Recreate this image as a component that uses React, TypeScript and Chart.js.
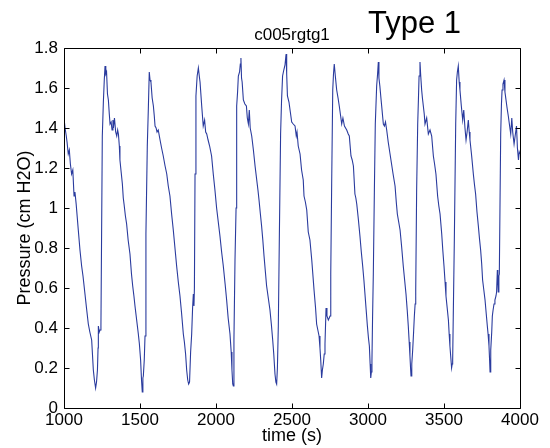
import React, { useEffect, useRef } from 'react';
import { Chart, registerables } from 'chart.js';

Chart.register(...registerables);

const FONT = "'Liberation Sans', Arial, Helvetica, sans-serif";

const titleText = 'c005rgtg1';
const annotationText = 'Type 1';
const xAxisTitle = 'time (s)';
const yAxisTitle = 'Pressure (cm H2O)';

const xTickValues = [1000, 1500, 2000, 2500, 3000, 3500, 4000];
const xTickLabels = ['1000', '1500', '2000', '2500', '3000', '3500', '4000'];
const yTickValues = [0, 0.2, 0.4, 0.6, 0.8, 1, 1.2, 1.4, 1.6, 1.8];
const yTickLabels = ['0', '0.2', '0.4', '0.6', '0.8', '1', '1.2', '1.4', '1.6', '1.8'];

// time (s)
const times = [
  1000, 1007, 1015, 1020, 1028, 1035, 1042, 1050, 1058, 1066, 1072, 1080, 1094, 1105, 1116, 1125, 1138, 1148, 1160, 1170,
  1182, 1193, 1200, 1208, 1214, 1220, 1224, 1226, 1232, 1237, 1243, 1248, 1252, 1259, 1265, 1270, 1275, 1280, 1286, 1292,
  1298, 1303, 1310, 1316, 1322, 1325, 1332, 1340, 1347, 1353, 1358, 1364, 1368, 1376, 1384, 1390, 1395, 1404, 1412, 1422,
  1434, 1444, 1452, 1460, 1467, 1478, 1489, 1496, 1504, 1510, 1515, 1519, 1522, 1528, 1533, 1539, 1548, 1555, 1561, 1566,
  1572, 1580, 1588, 1594, 1599, 1606, 1612, 1620, 1632, 1642, 1653, 1665, 1676, 1686, 1697, 1708, 1719, 1730, 1741, 1752,
  1763, 1774, 1785, 1792, 1800, 1807, 1814, 1820, 1826, 1833, 1840, 1846, 1851, 1855, 1858, 1862, 1868, 1876, 1884, 1890,
  1895, 1906, 1916, 1925, 1932, 1939, 1948, 1958, 1971, 1982, 1993, 2004, 2015, 2026, 2037, 2048, 2060, 2070, 2080, 2092,
  2100, 2105, 2110, 2114, 2118, 2125, 2132, 2136, 2142, 2147, 2155, 2160, 2164, 2168, 2172, 2180, 2190, 2200, 2206, 2213,
  2219, 2225, 2235, 2246, 2257, 2268, 2276, 2283, 2292, 2300, 2308, 2316, 2325, 2333, 2344, 2355, 2364, 2373, 2380, 2388,
  2394, 2399, 2404, 2410, 2417, 2425, 2431, 2438, 2446, 2454, 2461, 2465, 2470, 2480, 2489, 2498, 2508, 2520, 2528, 2533,
  2541, 2553, 2563, 2574, 2579, 2588, 2597, 2607, 2618, 2630, 2645, 2655, 2662, 2670, 2678, 2684, 2689, 2695, 2700, 2706,
  2712, 2717, 2724, 2730, 2739, 2745, 2750, 2755, 2761, 2768, 2773, 2778, 2785, 2794, 2803, 2811, 2820, 2827, 2835, 2845,
  2860, 2870, 2877, 2888, 2896, 2904, 2914, 2920, 2926, 2937, 2947, 2956, 2965, 2973, 2980, 2988, 2996, 3003, 3009, 3014,
  3018, 3022, 3026, 3030, 3035, 3042, 3048, 3057, 3063, 3068, 3072, 3078, 3085, 3090, 3096, 3101, 3108, 3115, 3123, 3133,
  3145, 3155, 3165, 3178, 3186, 3193, 3202, 3211, 3222, 3232, 3241, 3250, 3258, 3265, 3271, 3276, 3280, 3283, 3288, 3294,
  3300, 3305, 3310, 3314, 3320, 3327, 3332, 3336, 3342, 3347, 3353, 3358, 3364, 3370, 3375, 3386, 3397, 3408, 3419, 3430,
  3438, 3447, 3458, 3466, 3474, 3485, 3492, 3500, 3507, 3513, 3521, 3529, 3534, 3539, 3545, 3550, 3554, 3557, 3561, 3568,
  3577, 3583, 3588, 3594, 3600, 3605, 3614, 3623, 3630, 3638, 3645, 3652, 3660, 3666, 3671, 3682, 3693, 3700, 3708, 3717,
  3726, 3733, 3741, 3748, 3754, 3762, 3770, 3778, 3785, 3790, 3796, 3800, 3803, 3806, 3809, 3814, 3818, 3823, 3829, 3835,
  3842, 3846, 3851, 3854, 3857, 3861, 3864, 3873, 3878, 3882, 3888, 3895, 3901, 3908, 3915, 3923, 3930, 3939, 3946, 3952,
  3961, 3968, 3977, 3983, 3990, 3995, 4000,
];

// pressure (cm H2O)
const pressures = [
  1.45, 1.40, 1.36, 1.33, 1.27, 1.29, 1.22, 1.17, 1.19, 1.06, 1.08, 1.02, 0.89, 0.79, 0.71, 0.66, 0.57, 0.50, 0.42, 0.38,
  0.34, 0.19, 0.14, 0.10, 0.13, 0.19, 0.30, 0.41, 0.38, 0.39, 0.41, 0.94, 1.36, 1.53, 1.64, 1.71, 1.67, 1.68, 1.57, 1.54,
  1.47, 1.42, 1.43, 1.39, 1.44, 1.40, 1.45, 1.38, 1.36, 1.39, 1.37, 1.31, 1.24, 1.18, 1.12, 1.05, 1.02, 0.96, 0.92, 0.84,
  0.77, 0.67, 0.61, 0.56, 0.51, 0.44, 0.37, 0.32, 0.24, 0.14, 0.08, 0.15, 0.16, 0.24, 0.36, 0.87, 1.31, 1.50, 1.68, 1.64,
  1.63, 1.55, 1.51, 1.46, 1.41, 1.40, 1.38, 1.39, 1.34, 1.30, 1.26, 1.21, 1.17, 1.11, 1.06, 0.97, 0.89, 0.80, 0.71, 0.63,
  0.56, 0.47, 0.37, 0.33, 0.27, 0.19, 0.14, 0.12, 0.13, 0.28, 0.37, 0.50, 0.57, 0.51, 0.60, 1.17, 1.56, 1.66, 1.70, 1.66,
  1.63, 1.51, 1.41, 1.44, 1.38, 1.37, 1.34, 1.31, 1.26, 1.17, 1.09, 1.00, 0.93, 0.86, 0.78, 0.71, 0.62, 0.54, 0.45, 0.37,
  0.28, 0.19, 0.12, 0.11, 0.34, 0.74, 1.00, 1.51, 1.58, 1.66, 1.68, 1.72, 1.75, 1.65, 1.63, 1.54, 1.52, 1.51, 1.45, 1.42,
  1.49, 1.40, 1.36, 1.29, 1.21, 1.14, 1.09, 1.04, 0.97, 0.91, 0.84, 0.76, 0.68, 0.61, 0.55, 0.49, 0.42, 0.34, 0.27, 0.17,
  0.13, 0.12, 0.20, 0.41, 0.87, 1.37, 1.53, 1.66, 1.69, 1.715, 1.77, 1.67, 1.56, 1.53, 1.48, 1.43, 1.42, 1.41, 1.36, 1.38,
  1.31, 1.27, 1.19, 1.14, 1.06, 1.03, 0.99, 0.88, 0.84, 0.74, 0.59, 0.50, 0.42, 0.39, 0.36, 0.30, 0.24, 0.15, 0.19, 0.22,
  0.27, 0.32, 0.50, 0.46, 0.44, 0.45, 0.46, 0.67, 1.12, 1.59, 1.67, 1.72, 1.66, 1.59, 1.55, 1.51, 1.46, 1.42, 1.45, 1.41,
  1.39, 1.37, 1.36, 1.26, 1.24, 1.21, 1.07, 1.05, 1.02, 0.94, 0.86, 0.78, 0.71, 0.64, 0.57, 0.49, 0.41, 0.35, 0.31, 0.22,
  0.15, 0.18, 0.24, 0.45, 0.67, 1.09, 1.42, 1.61, 1.67, 1.73, 1.65, 1.61, 1.55, 1.51, 1.46, 1.42, 1.41, 1.43, 1.39, 1.33,
  1.27, 1.22, 1.17, 1.11, 1.03, 0.97, 0.93, 0.89, 0.80, 0.71, 0.64, 0.57, 0.49, 0.41, 0.33, 0.26, 0.20, 0.16, 0.22, 0.29,
  0.38, 0.46, 0.52, 0.59, 1.09, 1.42, 1.55, 1.66, 1.73, 1.66, 1.59, 1.55, 1.51, 1.47, 1.42, 1.45, 1.37, 1.39, 1.36, 1.26,
  1.22, 1.17, 1.06, 1.01, 0.97, 0.87, 0.79, 0.71, 0.63, 0.56, 0.50, 0.44, 0.37, 0.31, 0.25, 0.20, 0.22, 0.24, 0.46, 0.84,
  1.42, 1.64, 1.68, 1.71, 1.63, 1.59, 1.51, 1.44, 1.49, 1.40, 1.34, 1.38, 1.44, 1.38, 1.34, 1.26, 1.17, 1.12, 1.07, 0.98,
  0.91, 0.85, 0.79, 0.72, 0.64, 0.59, 0.54, 0.47, 0.41, 0.37, 0.31, 0.24, 0.18, 0.22, 0.29, 0.38, 0.46, 0.49, 0.52, 0.54,
  0.56, 0.58, 0.69, 0.64, 0.58, 0.66, 0.67, 1.37, 1.52, 1.59, 1.62, 1.64, 1.58, 1.54, 1.50, 1.46, 1.42, 1.37, 1.45, 1.38,
  1.32, 1.36, 1.41, 1.30, 1.24, 1.28, 1.27,
];

const TICK_LEN = 5;

const matlabFrame = {
  id: 'matlabFrame',
  afterDraw(chart: any) {
    const { ctx, chartArea } = chart;
    const xs = chart.scales.x;
    const ys = chart.scales.y;
    const l = Math.round(chartArea.left) + 0.5;
    const r = Math.round(chartArea.right) + 0.5;
    const t = Math.round(chartArea.top) + 0.5;
    const b = Math.round(chartArea.bottom) + 0.5;
    ctx.save();
    ctx.strokeStyle = '#000';
    ctx.lineWidth = 1;
    ctx.beginPath();
    ctx.rect(l, t, r - l, b - t);
    for (const v of xTickValues) {
      const px = Math.round(xs.getPixelForValue(v)) + 0.5;
      ctx.moveTo(px, b);
      ctx.lineTo(px, b - TICK_LEN);
      ctx.moveTo(px, t);
      ctx.lineTo(px, t + TICK_LEN);
    }
    for (const v of yTickValues) {
      const py = Math.round(ys.getPixelForValue(v)) + 0.5;
      ctx.moveTo(l, py);
      ctx.lineTo(l + TICK_LEN, py);
      ctx.moveTo(r, py);
      ctx.lineTo(r - TICK_LEN, py);
    }
    ctx.stroke();

    ctx.fillStyle = '#000';
    ctx.textBaseline = 'alphabetic';
    ctx.textAlign = 'center';
    ctx.font = `17px ${FONT}`;
    ctx.fillText(titleText, (chartArea.left + chartArea.right) / 2, 40);
    ctx.textAlign = 'left';
    ctx.font = `31px ${FONT}`;
    ctx.fillText(annotationText, 368, 33);
    ctx.restore();
  },
};

export default function App() {
  const canvasRef = useRef<HTMLCanvasElement | null>(null);

  useEffect(() => {
    const canvas = canvasRef.current;
    if (!canvas) return;
    const points = times.map((t, i) => ({ x: t, y: pressures[i] }));
    const chart = new Chart(canvas, {
      type: 'line',
      data: {
        datasets: [
          {
            data: points,
            borderColor: '#2a3b9e',
            borderWidth: 1.1,
            pointRadius: 0,
            tension: 0,
            fill: false,
          },
        ],
      },
      options: {
        animation: false,
        responsive: false,
        devicePixelRatio: 1,
        layout: { padding: { top: 48, right: 30, left: 0, bottom: 0 } },
        plugins: {
          legend: { display: false },
          tooltip: { enabled: false },
          title: { display: false },
        },
        scales: {
          x: {
            type: 'linear',
            min: 1000,
            max: 4000,
            afterBuildTicks: (s: any) => {
              s.ticks = xTickValues.map((v) => ({ value: v }));
            },
            afterFit: (s: any) => {
              s.height = 40;
            },
            grid: { display: false, drawTicks: false },
            border: { display: false },
            ticks: {
              autoSkip: false,
              maxRotation: 0,
              padding: 2,
              color: '#000',
              font: { family: FONT, size: 17 },
              callback: (_v: any, i: number) => xTickLabels[i],
            },
            title: {
              display: true,
              text: xAxisTitle,
              color: '#000',
              font: { family: FONT, size: 18 },
              padding: { top: 0, bottom: 1 },
            },
          },
          y: {
            type: 'linear',
            min: 0,
            max: 1.8,
            afterBuildTicks: (s: any) => {
              s.ticks = yTickValues.map((v) => ({ value: v }));
            },
            afterFit: (s: any) => {
              s.width = 64;
            },
            grid: { display: false, drawTicks: false },
            border: { display: false },
            ticks: {
              autoSkip: false,
              padding: 6,
              color: '#000',
              font: { family: FONT, size: 17 },
              callback: (_v: any, i: number) => yTickLabels[i],
            },
            title: {
              display: true,
              text: yAxisTitle,
              color: '#000',
              font: { family: FONT, size: 18 },
              padding: { top: 14, bottom: 0 },
            },
          },
        },
      },
      plugins: [matlabFrame],
    });
    return () => chart.destroy();
  }, []);

  return (
    <div style={{ position: 'absolute', left: 0, top: 0, width: 550, height: 448, background: '#fff' }}>
      <canvas ref={canvasRef} width={550} height={448} />
    </div>
  );
}
